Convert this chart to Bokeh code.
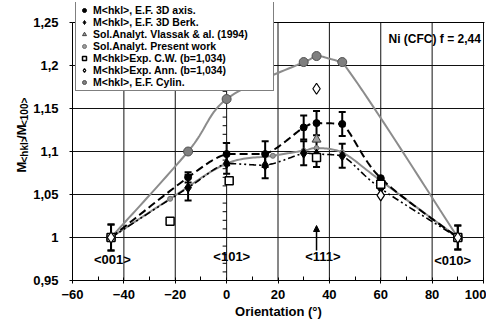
import numpy as np
from bokeh.plotting import figure
from bokeh.layouts import row
from bokeh.models import (Range1d, FixedTicker, Legend, LegendItem, Whisker, TeeHead,
                          ColumnDataSource, Label, Arrow, NormalHead, Span)
from bokeh.core.properties import value
from bokeh.embed import file_html
from bokeh.resources import INLINE

# ---------------- data ----------------
sim_x = [-45, -15, 0, 15, 30, 35, 45, 60, 90]
axis3d_y = [1.000, 1.070, 1.097, 1.097, 1.128, 1.133, 1.132, 1.069, 1.000]
axis3d_err = [0.015, 0.006, 0.013, 0.015, 0.014, 0.014, 0.014, 0.0, 0.014]
berk3d_y = [1.000, 1.058, 1.086, 1.084, 1.098, 1.097, 1.095, 1.057, 1.000]
berk3d_err = [0.015, 0.015, 0.012, 0.015, 0.014, 0.015, 0.014, 0.0, 0.014]

vlassak_x = [-45, 35, 60, 90]
vlassak_y = [1.000, 1.114, 1.066, 1.000]

present_x = [-45, -22, 0, 18, 30, 35, 45, 60, 90]
present_y = [1.000, 1.045, 1.086, 1.095, 1.101, 1.104, 1.099, 1.066, 1.000]

cw_x = [-45, -22, 1, 35, 60, 90]
cw_y = [1.000, 1.019, 1.066, 1.093, 1.062, 1.000]

ann_x = [-45, 35, 60, 90]
ann_y = [1.000, 1.173, 1.049, 1.000]

cyl_x = [-45, -15, 0, 30, 35, 45, 90]
cyl_y = [1.000, 1.100, 1.161, 1.204, 1.211, 1.204, 1.000]

x_ticks = [-60, -40, -20, 0, 20, 40, 60, 80, 100]
x_minor = [-50, -30, -10, 10, 30, 50, 70, 90]
y_ticks = [0.95, 1.0, 1.05, 1.1, 1.15, 1.2, 1.25]
y_tick_labels = ["0,95", "1", "1,05", "1,1", "1,15", "1,2", "1,25"]

orient_labels = ["<001>", "<101>", "<111>", "<010>"]
orient_x = [-44.5, 2, 37.5, 88]
orient_y = [0.974, 0.978, 0.978, 0.973]

legend_labels = ["M<hkl>, E.F. 3D axis.", "M<hkl>, E.F. 3D Berk.",
                 "Sol.Analyt. Vlassak & al. (1994)", "Sol.Analyt. Present work",
                 "M<hkl>Exp. C.W. (b=1,034)", "M<hkl>Exp. Ann. (b=1,034)",
                 "M<hkl>, E.F. Cylin."]

ytitle_parts = ["M", "<hkl>", "/M", "<100>"]

# ---------------- layout ----------------
X0, X1, Y0, Y1 = -60, 100, 0.95, 1.25
KX = 411 / (X1 - X0)          # px per x unit
KY = 258 / (Y1 - Y0)          # px per y unit
EXTRA_TOP = 20                # frame extends above plot area (for the legend)
FW, FH = 412, 258 + EXTRA_TOP
FONT = "Liberation Sans"
GRAY = "#8c8c8c"
TOTAL_H = 324
LAB_W = 30
TOP = 22 - EXTRA_TOP

def dx(px):
    return X0 + (px - 72) / KX

def dy(py):
    return Y0 + (280 - py) / KY

def smooth(xs, ys, n=24):
    P = np.column_stack([np.asarray(xs, float) * KX, np.asarray(ys, float) * KY])
    out = [P[0]]
    t = np.linspace(0, 1, n + 1)[1:, None]
    for i in range(len(P) - 1):
        p0 = P[i - 1] if i > 0 else P[i]
        p1, p2 = P[i], P[i + 1]
        p3 = P[i + 2] if i + 2 < len(P) else P[i + 1]
        c1 = p1 + (p2 - p0) / 6
        c2 = p2 - (p3 - p1) / 6
        lo, hi = min(p1[1], p2[1]), max(p1[1], p2[1])
        c1[1] = np.clip(c1[1], lo, hi)
        c2[1] = np.clip(c2[1], lo, hi)
        seg = (1 - t) ** 3 * p1 + 3 * (1 - t) ** 2 * t * c1 + 3 * (1 - t) * t ** 2 * c2 + t ** 3 * p2
        out.extend(seg)
    out = np.array(out)
    return out[:, 0] / KX, out[:, 1] / KY

# ---------- y-axis title panel ----------
yl = figure(width=LAB_W, height=TOTAL_H, x_range=Range1d(0, LAB_W), y_range=Range1d(0, TOTAL_H),
            output_backend="svg", toolbar_location=None, x_axis_type=None, y_axis_type=None,
            min_border_left=0, min_border_right=0, min_border_top=0, min_border_bottom=0,
            outline_line_color=None, background_fill_color="white", border_fill_color="white")
yl.xgrid.visible = False
yl.ygrid.visible = False
part_font = ["13px", "10px", "13px", "10px"]
part_x = [21, 23.5, 21, 23.5]
part_start = [198, 186.5, 159, 144]
yl.text(x=part_x, y=[TOTAL_H - s for s in part_start], text=ytitle_parts, angle=np.pi / 2,
        text_font=value(FONT), text_font_style="bold", text_font_size=part_font,
        text_align="left", text_baseline="middle", text_color="black")

# ---------- main plot ----------
p = figure(frame_width=FW, frame_height=FH,
           x_range=Range1d(X0, X1 + 1 / KX), y_range=Range1d(Y0, Y1 + EXTRA_TOP / KY),
           output_backend="svg", toolbar_location=None,
           min_border_left=72 - LAB_W, min_border_right=2, min_border_top=TOP,
           min_border_bottom=TOTAL_H - TOP - FH,
           background_fill_color="white", border_fill_color="white")
p.outline_line_color = None

p.xaxis.ticker = FixedTicker(ticks=x_ticks, minor_ticks=x_minor)
p.yaxis.ticker = FixedTicker(ticks=y_ticks)
p.yaxis.bounds = (Y0, Y1)
p.xaxis.bounds = (X0, X1)
p.yaxis.major_label_overrides = dict(zip(y_ticks, y_tick_labels))
for ax in (p.xaxis[0], p.yaxis[0]):
    ax.axis_line_color = "black"
    ax.major_tick_line_color = "black"
    ax.major_label_text_font = FONT
    ax.major_label_text_font_style = "bold"
    ax.major_label_text_font_size = "13px"
    ax.major_label_text_color = "black"
p.xaxis.major_tick_in = 3
p.xaxis.major_tick_out = 3
p.xaxis.minor_tick_in = 4
p.xaxis.minor_tick_out = 0
p.xaxis.minor_tick_line_color = "black"
p.xaxis.major_label_standoff = 6
p.xaxis.axis_label = "Orientation (°)"
p.xaxis.axis_label_text_font = FONT
p.xaxis.axis_label_text_font_style = "bold"
p.xaxis.axis_label_text_font_size = "13px"
p.xaxis.axis_label_text_color = "black"
p.xaxis.axis_label_standoff = 2
p.yaxis.major_tick_in = 0
p.yaxis.major_tick_out = 3
p.yaxis.minor_tick_line_color = None
p.yaxis.major_label_standoff = 11

# grid: horizontal via Bokeh grid, vertical lines limited to the plot area
p.xgrid.visible = False
p.ygrid.ticker = FixedTicker(ticks=y_ticks)
p.ygrid.grid_line_color = "#111111"
p.ygrid.grid_line_width = 1
p.segment(x0=x_ticks, y0=[Y0] * len(x_ticks), x1=x_ticks, y1=[Y1] * len(x_ticks),
          line_color="#111111", line_width=1)
p.add_layout(Span(location=Y1, dimension="width", line_color="black", line_width=1))

# vertical axis crossing at x=0 with minor ticks
ytk = np.arange(Y0, Y1 + 1e-9, 0.01)
p.segment(x0=[-4 / KX] * len(ytk), y0=ytk, x1=[0] * len(ytk), y1=ytk,
          line_color="black", line_width=1)

# curves
lx, ly = smooth(cyl_x, cyl_y)
p.line(lx, ly, line_color=GRAY, line_width=2)
lx, ly = smooth(present_x, present_y)
p.line(lx, ly, line_color=GRAY, line_width=2)
lx, ly = smooth(sim_x, axis3d_y)
p.line(lx, ly, line_color="black", line_width=2, line_dash="8 4")
lx, ly = smooth(sim_x, berk3d_y)
p.line(lx, ly, line_color="black", line_width=1.6, line_dash="7 3 2 3 2 3")

# error bars
for ys, errs in ((axis3d_y, axis3d_err), (berk3d_y, berk3d_err)):
    xs = [x for x, e in zip(sim_x, errs) if e > 0]
    yy = [y for y, e in zip(ys, errs) if e > 0]
    ee = [e for e in errs if e > 0]
    src = ColumnDataSource(dict(x=xs, upper=[a + b for a, b in zip(yy, ee)],
                                lower=[a - b for a, b in zip(yy, ee)]))
    w = Whisker(source=src, base="x", upper="upper", lower="lower", dimension="height",
                line_color="black", line_width=2,
                upper_head=TeeHead(size=7, line_width=2, line_color="black"),
                lower_head=TeeHead(size=7, line_width=2, line_color="black"))
    p.add_layout(w)

# markers
r_cyl = p.scatter(cyl_x, cyl_y, marker="circle", size=9, fill_color="#808080", line_color="#505050", line_width=1)
r_pw = p.scatter(present_x, present_y, marker="circle", size=5, fill_color="#9a9a9a", line_color="#707070", line_width=1)
r_vl = p.scatter(vlassak_x, vlassak_y, marker="triangle", size=9, fill_color="#a0a0a0", line_color="#404040", line_width=1)
r_berk = p.scatter(sim_x, berk3d_y, marker="diamond", size=10, fill_color="black", line_color="black")
r_axis = p.scatter(sim_x, axis3d_y, marker="circle", size=7, fill_color="black", line_color="black")
r_cw = p.scatter(cw_x, cw_y, marker="square", size=8, fill_color="white", line_color="black", line_width=1.5)
r_ann = p.scatter(ann_x, ann_y, marker="diamond", size=11, fill_color="white", line_color="black", line_width=1.2)

# orientation labels and arrow
p.text(x=orient_x, y=orient_y, text=orient_labels, text_font=value(FONT), text_font_style="bold",
       text_font_size="13px", text_align="center", text_baseline="middle", text_color="black")
p.add_layout(Arrow(end=NormalHead(size=6, fill_color="black", line_color="black"),
                   x_start=35, y_start=dy(250), x_end=35, y_end=dy(225),
                   line_color="black", line_width=1.5))

# title text
p.add_layout(Label(x=dx(388), y=dy(38), text="Ni (CFC) f = 2,44", text_font=FONT,
                   text_font_style="bold", text_font_size="12px", text_align="left",
                   text_baseline="middle", text_color="black"))

# legend
renderers = [r_axis, r_berk, r_vl, r_pw, r_cw, r_ann, r_cyl]
legend = Legend(items=[LegendItem(label=l, renderers=[r]) for l, r in zip(legend_labels, renderers)],
                location=(3, 189), label_text_font=FONT, label_text_font_style="bold",
                label_text_font_size="10.5px", label_text_color="black",
                label_text_line_height=0.95,
                glyph_width=12, glyph_height=10, label_height=10, label_width=178, spacing=0,
                padding=2, margin=0, label_standoff=3,
                border_line_color="black", border_line_width=1,
                background_fill_color="white", background_fill_alpha=1)
p.add_layout(legend)

layout = row(yl, p, spacing=0)
open("out.html", "w").write(file_html(layout, INLINE))
